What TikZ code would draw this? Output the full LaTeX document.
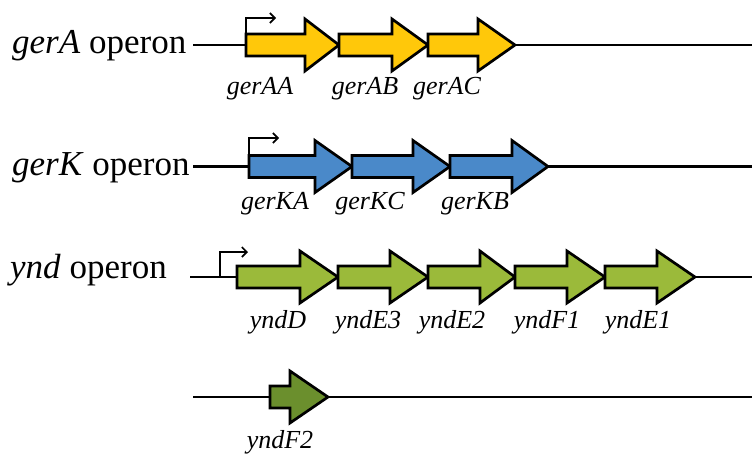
\documentclass[tikz,border=0pt]{standalone}
\usepackage{fontspec}
\setmainfont{Liberation Serif}
\usetikzlibrary{arrows.meta}

\definecolor{geneyellow}{HTML}{FFC80A}
\definecolor{geneblue}{HTML}{4A89C9}
\definecolor{genegreen}{HTML}{9BBA3A}
\definecolor{genedark}{HTML}{6B8F2D}

\tikzset{
  backbone/.style={line width=2.7pt, black},
  genebox/.style={line width=2.7pt, draw=black, line join=miter},
  promoter/.style={line width=1.8pt, -{Straight Barb[length=5pt,width=10pt,line width=1.6pt]}},
  title/.style={anchor=base west, inner sep=0pt, font=\fontsize{35}{38}\selectfont},
  genelabel/.style={anchor=base, inner sep=0pt, font=\fontsize{26}{28}\selectfont\itshape},
}

% \gene{fill}{start x}{head x}{tip x}{centre y}
\newcommand{\gene}[5]{%
  \filldraw[genebox, fill=#1]
    (#2,#5-11) -- (#3,#5-11) -- (#3,#5-26) -- (#4,#5)
    -- (#3,#5+26) -- (#3,#5+11) -- (#2,#5+11) -- cycle;}

\begin{document}
\begin{tikzpicture}[x=1pt, y=-1pt]
\useasboundingbox (0,0) rectangle (752,455);

% ---- gerA operon ----
\node[title] (tA) at (12,53) {\textit{gerA} operon};
\coordinate (lA0) at (193,45);
\coordinate (lA1) at (752,45);
\draw[backbone] (lA0) -- (lA1);
\gene{geneyellow}{246}{305}{339}{45}
\gene{geneyellow}{339}{392}{428}{45}
\gene{geneyellow}{428}{478}{515}{45}
\coordinate (pA) at (246,34);
\draw[promoter] (pA) |- (276,18);
\node[genelabel] (gAA) at (260,94) {gerAA};
\node[genelabel] (gAB) at (365,94) {gerAB};
\node[genelabel] (gAC) at (447,94) {gerAC};

% ---- gerK operon ----
\node[title] (tK) at (12,175) {\textit{gerK} operon};
\coordinate (lK0) at (193,166.5);
\coordinate (lK1) at (752,166.5);
\draw[backbone] (lK0) -- (lK1);
\gene{geneblue}{249}{315}{352}{166.5}
\gene{geneblue}{352}{413}{450}{166.5}
\gene{geneblue}{450}{512}{548}{166.5}
\coordinate (pK) at (249,155.5);
\draw[promoter] (pK) |- (279,138);
\node[genelabel] (gKA) at (275,209) {gerKA};
\node[genelabel] (gKC) at (370,209) {gerKC};
\node[genelabel] (gKB) at (475,209) {gerKB};

% ---- ynd operon ----
\node[title] (tY) at (10,278) {\textit{ynd} operon};
\coordinate (lY0) at (190,277);
\coordinate (lY1) at (752,277);
\draw[backbone] (lY0) -- (lY1);
\gene{genegreen}{237}{300}{338}{277}
\gene{genegreen}{338}{390}{428}{277}
\gene{genegreen}{428}{480}{515}{277}
\gene{genegreen}{515}{567}{605}{277}
\gene{genegreen}{605}{657}{695}{277}
\coordinate (pY) at (220,277);
\draw[promoter] (pY) |- (248,252);
\node[genelabel] (gYD)  at (278,328) {yndD};
\node[genelabel] (gYE3) at (368,328) {yndE3};
\node[genelabel] (gYE2) at (452,328) {yndE2};
\node[genelabel] (gYF1) at (547,328) {yndF1};
\node[genelabel] (gYE1) at (638,328) {yndE1};

% ---- yndF2 ----
\coordinate (lF0) at (193,397);
\coordinate (lF1) at (752,397);
\draw[backbone] (lF0) -- (lF1);
\gene{genedark}{270}{290}{328}{397}
\node[genelabel] (gYF2) at (280,448) {yndF2};
\end{tikzpicture}
\end{document}
